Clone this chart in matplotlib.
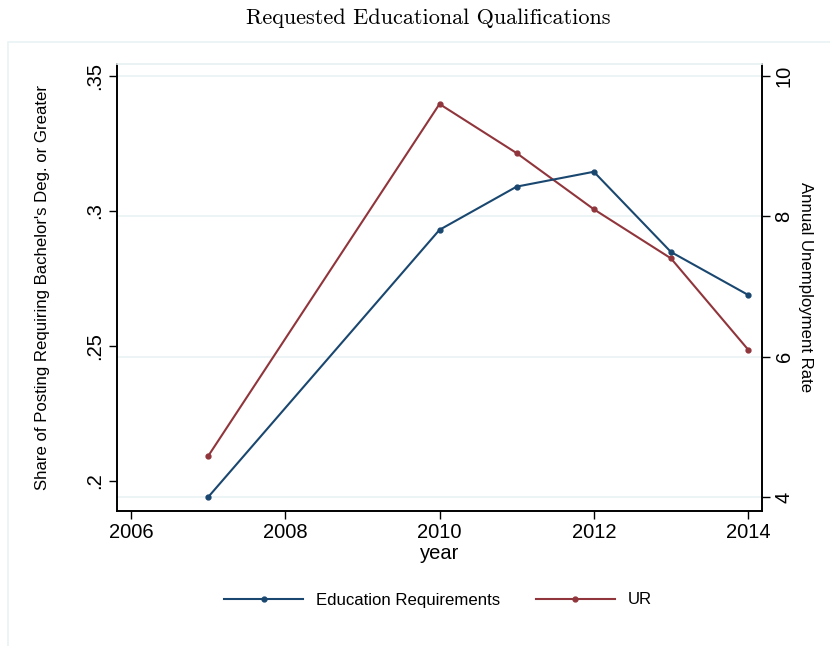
import matplotlib
matplotlib.use("Agg")
import matplotlib.pyplot as plt
from matplotlib.patches import Rectangle

years = [2007, 2010, 2011, 2012, 2013, 2014]
edu_share = [0.194, 0.293, 0.309, 0.3145, 0.2848, 0.2689]
unemp = [4.58, 9.6, 8.9, 8.1, 7.4, 6.1]

x_ticks = [2006, 2008, 2010, 2012, 2014]
left_ticks = [0.2, 0.25, 0.3, 0.35]
left_labels = [".2", ".25", ".3", ".35"]
right_ticks = [4, 6, 8, 10]

navy = "#1a476f"
maroon = "#90353b"
grid_c = "#eaf2f3"

plt.rcParams["font.family"] = ["Liberation Sans", "DejaVu Sans"]

fig = plt.figure(figsize=(8.3, 6.46), dpi=100)
fig.patch.set_facecolor("white")

# outer graph region frame
fig.patches.append(Rectangle((8 / 830, -0.1), 1.0, 1 - 42 / 646 + 0.1,
                             transform=fig.transFigure, fill=False,
                             edgecolor=grid_c, linewidth=1.2))

ax = fig.add_axes([117 / 830, 1 - 511 / 646, (762 - 117) / 830, (511 - 64) / 646])
ax2 = ax.twinx()
# keep the right-axis grid behind both lines
ax2.set_zorder(ax.get_zorder() - 1)
ax.patch.set_visible(False)
ax2.patch.set_visible(True)
ax2.patch.set_facecolor("white")

for t in right_ticks:
    ax2.axhline(t, color=grid_c, linewidth=1.2, zorder=0)

ax2.plot(years, unemp, color=maroon, linewidth=1.5, marker="o", markersize=3.5,
         label="UR", zorder=3)
ax.plot(years, edu_share, color=navy, linewidth=1.5, marker="o", markersize=3.5,
        label="Education Requirements", zorder=3)

ax.set_xlim(2005.82, 2014.18)
ax.set_ylim(0.1889, 0.3544)
ax2.set_ylim(3.80, 10.17)

ax.set_xticks(x_ticks)
ax.set_yticks(left_ticks)
ax.set_yticklabels(left_labels, rotation=90, va="center")
ax2.set_yticks(right_ticks)
ax2.set_yticklabels([str(t) for t in right_ticks], rotation=90, va="center")

ax.tick_params(axis="x", labelsize=14.5, length=6, width=1, pad=3)
ax.tick_params(axis="y", labelsize=14.5, length=6, width=1, pad=3)
ax2.tick_params(axis="y", labelsize=14.5, length=6, width=1, pad=3)

for a in (ax, ax2):
    for s in ("left", "right", "bottom"):
        a.spines[s].set_color("black")
        a.spines[s].set_linewidth(1.2)
    a.spines["top"].set_color(grid_c)
    a.spines["top"].set_linewidth(1.2)

ax.set_xlabel("year", fontsize=14.5, labelpad=1)
ax.set_ylabel("Share of Posting Requiring Bachelor's Deg. or Greater", fontsize=12.1)
ax.yaxis.set_label_coords(-0.104, 0.5)
ax2.set_ylabel("Annual Unemployment Rate", fontsize=12.1, rotation=270, va="center")
ax2.yaxis.set_label_coords(1.068, 0.5)

fig.text(428 / 830, 1 - 18 / 646, "Requested Educational Qualifications",
         family="cmr10", fontsize=16, ha="center", va="center")

h1, l1 = ax.get_legend_handles_labels()
h2, l2 = ax2.get_legend_handles_labels()
fig.legend(h1 + h2, l1 + l2, loc="center", bbox_to_anchor=(438 / 830, 1 - 600 / 646),
           ncol=2, frameon=False, fontsize=12.1, handlelength=4.7,
           handletextpad=0.78, columnspacing=2.1)

fig.savefig("out.png", dpi=100, facecolor="white")
